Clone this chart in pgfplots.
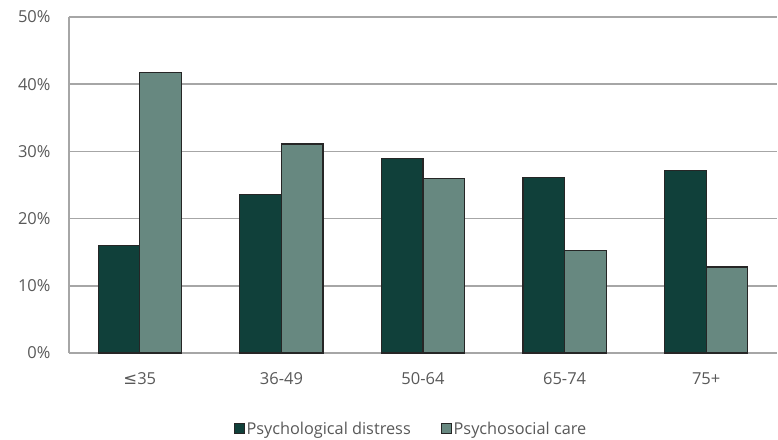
\documentclass[border=0pt]{standalone}
\usepackage{fontspec}
\setmainfont{Open Sans}
\usepackage{pgfplots}
\pgfplotsset{compat=1.18}
\definecolor{distress}{HTML}{10403A}
\definecolor{care}{HTML}{678880}
\definecolor{gridc}{HTML}{A6A6A6}
\definecolor{txt}{HTML}{595959}
\begin{document}
\begin{tikzpicture}[x=1bp,y=1bp]
\path[use as bounding box] (-69bp,-87bp) rectangle (709bp,336bp+17bp);
\begin{axis}[
  at={(0,0)}, anchor=south west,
  scale only axis, width=708bp, height=336bp,
  ybar=0pt, bar width=41.5bp,
  ymin=0, ymax=50, xmin=-0.5, xmax=4.5,
  xtick=data, xticklabels={{\fontspec{DejaVu Sans}≤}35,36-49,50-64,65-74,75+},
  ytick={0,10,20,30,40,50},
  yticklabel={\pgfmathprintnumber{\tick}\%},
  /pgf/number format/assume math mode=true,
  ymajorgrids, grid style={gridc, line width=1.6bp},
  axis x line*=bottom, axis y line*=left,
  axis line style={gridc, line width=1.6bp},
  x axis line style={-}, y axis line style={-},
  major tick length=0pt,
  tick label style={font=\fontsize{16.5bp}{18bp}\selectfont, text=txt},
  yticklabel style={xshift=-15bp},
  xticklabel style={yshift=-16bp},
  legend style={at={(0.483,-0.225)}, anchor=center, draw=none, font=\fontsize{16.3bp}{18bp}\selectfont, text=txt, legend columns=2, /tikz/every even column/.append style={column sep=28bp}},
  legend image code/.code={\draw[#1, line width=0.9bp] (0bp,-5bp) rectangle (10bp,5bp);},
  legend cell align=left,
]
\addplot[fill=distress, draw=black!85, line width=1.2bp] coordinates {(0,16.0) (1,23.6) (2,28.9) (3,26.1) (4,27.2)};
\addplot[fill=care, draw=black!85, line width=1.2bp] coordinates {(0,41.8) (1,31.1) (2,26.0) (3,15.3) (4,12.8)};
\legend{Psychological distress, Psychosocial care}
\end{axis}
\end{tikzpicture}
\end{document}
